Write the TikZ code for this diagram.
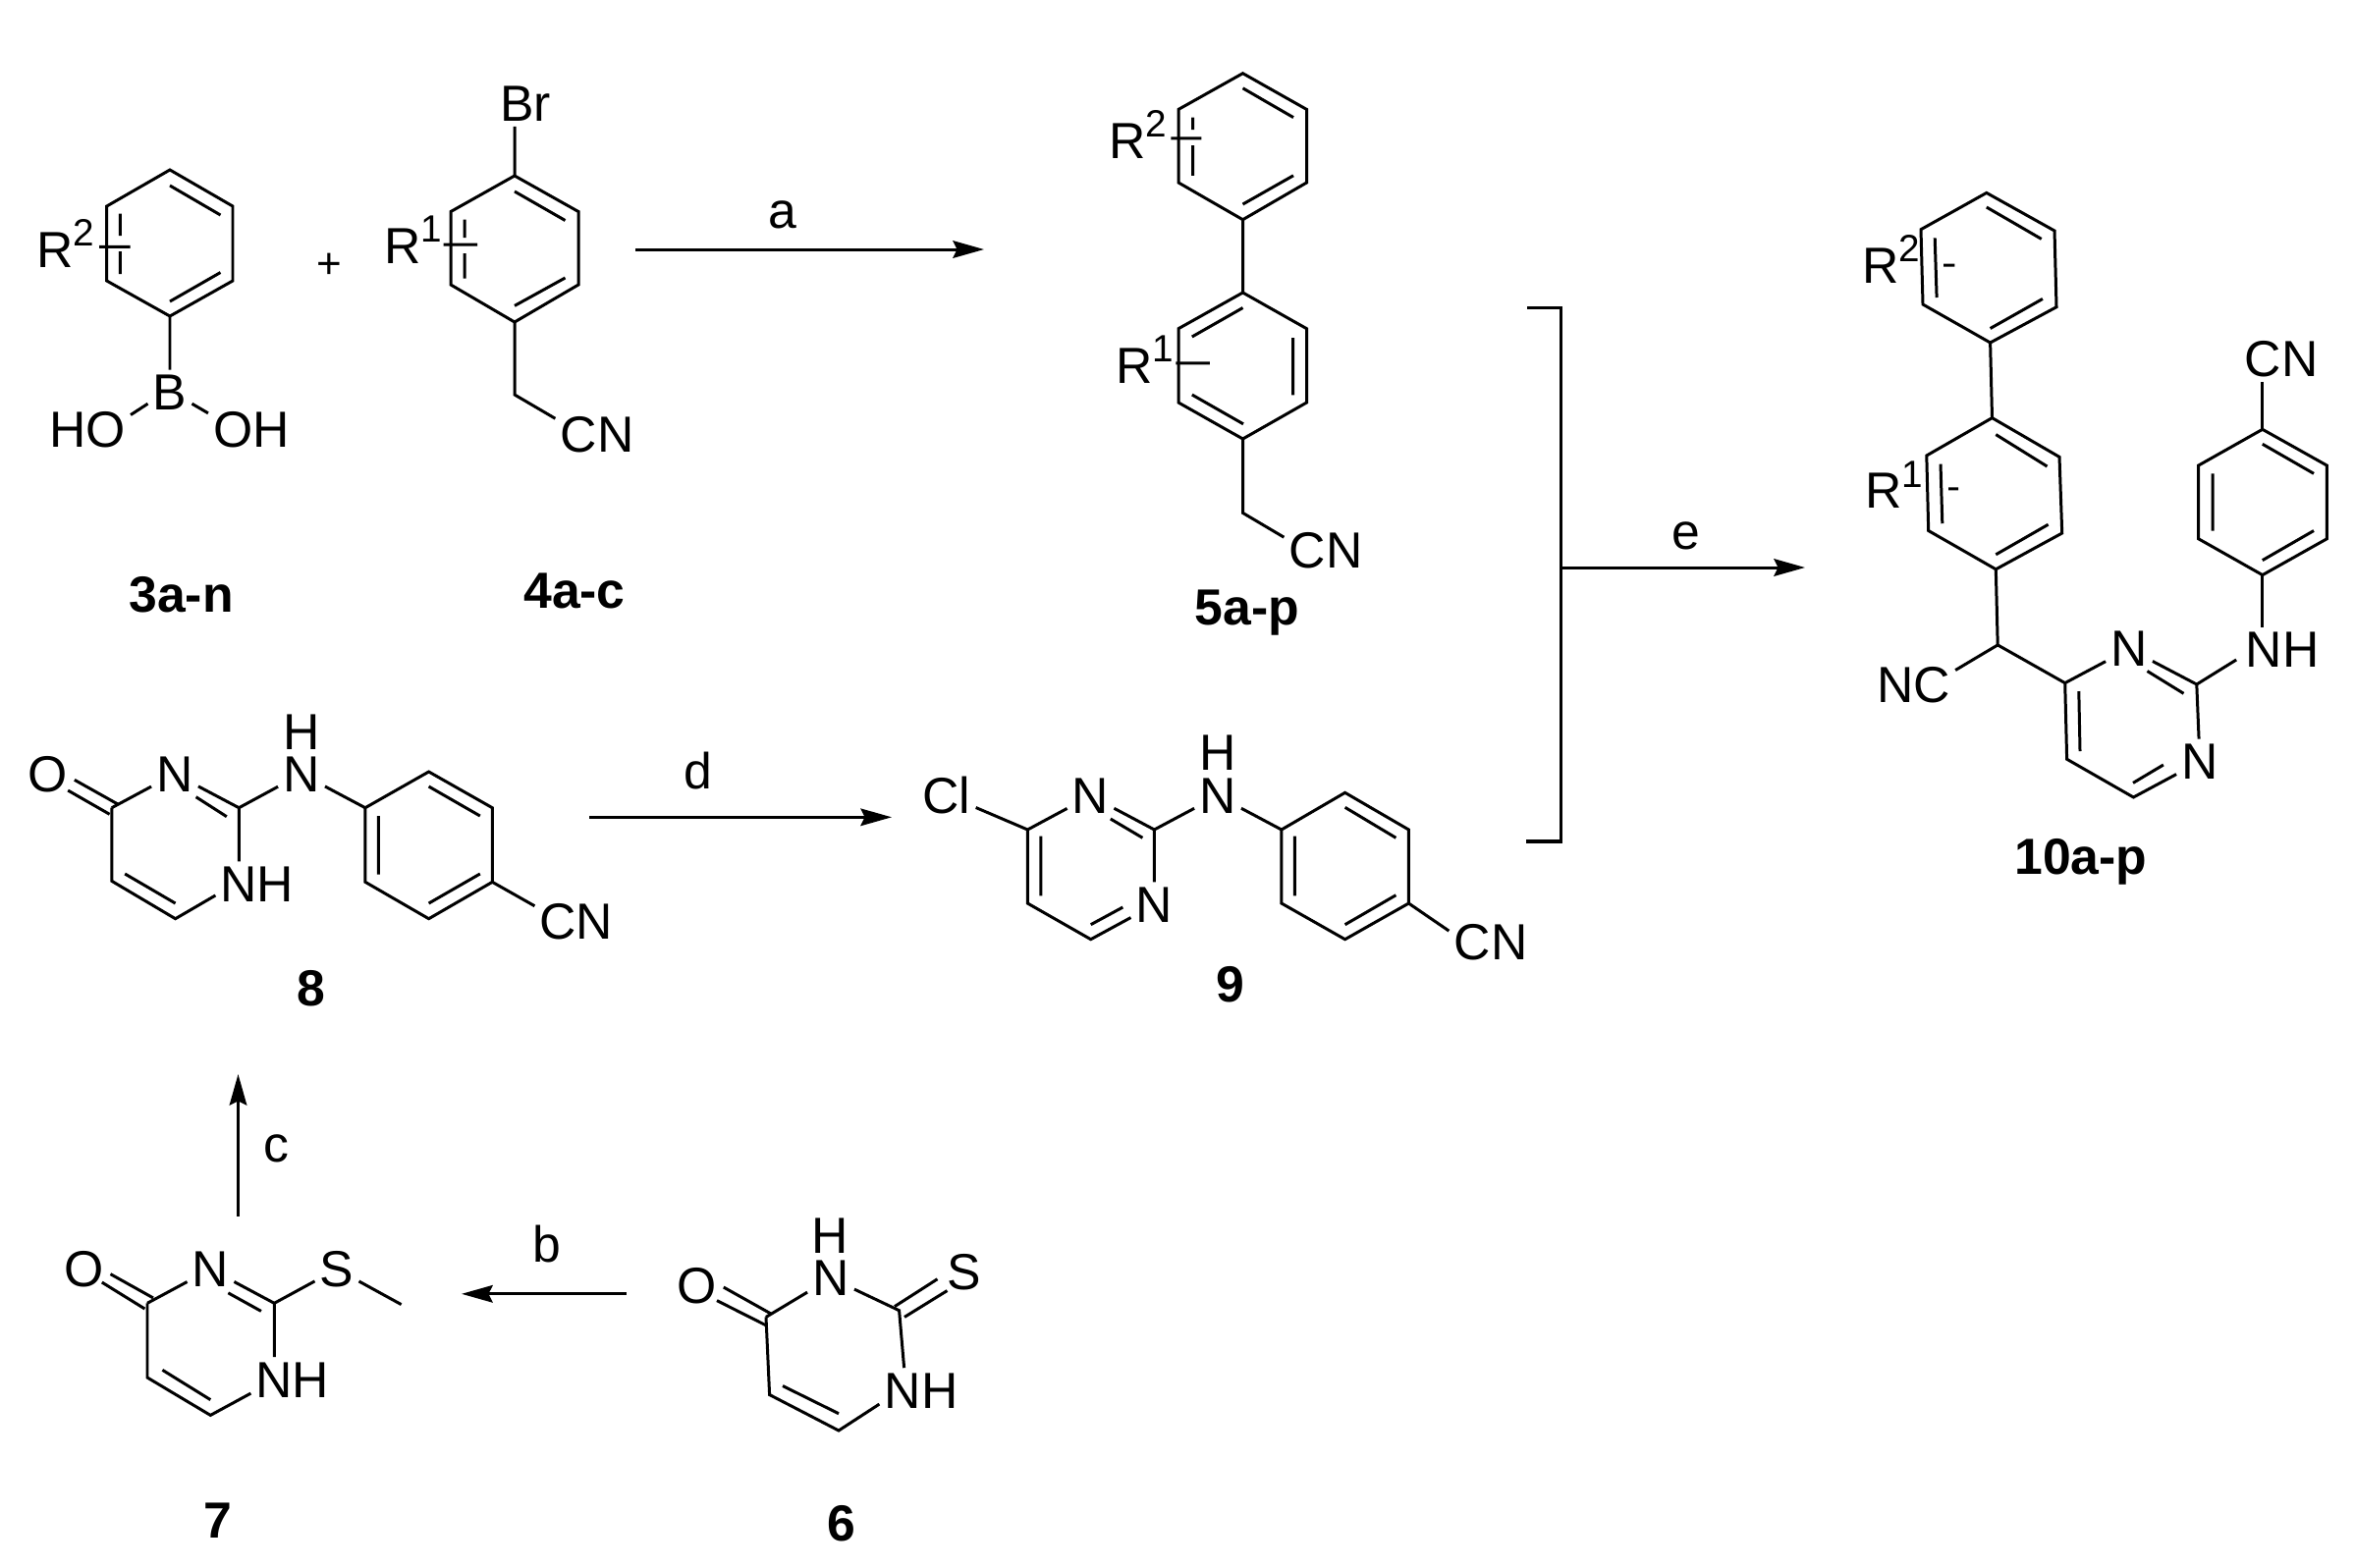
\documentclass[tikz,border=0pt]{standalone}
\usepackage{fontspec}
\setmainfont{Liberation Sans}
\usetikzlibrary{arrows.meta}
\newcommand{\rsub}[1]{R\raisebox{0.42em}{\fontsize{11}{13}\selectfont #1}}
\tikzset{
  bond/.style={line width=0.85pt},
  atom/.style={anchor=base,inner sep=0pt,outer sep=1.5pt,font=\fontsize{14.7}{17}\selectfont},
  rgroup/.style={atom,anchor=base west},
  cpd/.style={atom,font=\fontsize{14.7}{17}\selectfont\bfseries},
  rxn/.style={line width=0.85pt,-{Stealth[length=9pt,width=5pt,inset=1.2pt]}},
}

\begin{document}
\begin{tikzpicture}[x=0.01cm,y=-0.01cm]
  \useasboundingbox (0,0) rectangle (2397,1596);

  % 3a-n
  \draw[bond] (108.7,210) -- (173,173) -- (237,210) -- (237,286) -- (173,322) -- (108.7,286) -- cycle;
  \draw[bond] (173,189) -- (224.5,219) (224.5,277.5) -- (173,307) (122.4,217.5) -- (122.4,240) (122.4,256) -- (122.4,279) (101,251.4) -- (132.6,251.4);
  \coordinate (c3) at (173,322);
  \node[rgroup] (r3) at (32,272) {\rsub{2}};
  \node[atom] (b3) at (173,417.5) {B};
  \node[atom] (ho3) at (89,455.5) {HO};
  \node[atom] (oh3) at (256,455.5) {OH};
  \draw[bond] (c3) -- (b3) (b3.207) -- (ho3.19) (b3.333) -- (oh3.159);
  \node[cpd] (l3) at (184.6,623.7) {3a-n};
  \node[atom,font=\fontsize{12.5}{14}\selectfont] (plus) at (335,283) {+};

  % 4a-c
  \draw[bond] (459,215.5) -- (524,179) -- (589,215.5) -- (589,290) -- (524,328) -- (459,290) -- cycle;
  \draw[bond] (524,195) -- (575.5,224.5) (575.5,283) -- (524,311.4) (473,223.7) -- (473,242) (473,258) -- (473,283.7) (451.5,249) -- (486,249);
  \coordinate (c4a) at (524,179);
  \coordinate (c4b) at (524,328);
  \coordinate (c4c) at (524,402);
  \node[rgroup] (r4) at (386,268.6) {\rsub{1}};
  \node[atom] (br4) at (535,123.7) {Br};
  \node[atom] (cn4) at (608,460.4) {CN};
  \draw[bond] (br4.south -| c4a) -- (c4a) (c4b) -- (c4c) -- (cn4.159);
  \node[cpd] (l4) at (585,619.6) {4a-c};

  % a
  \coordinate (aS) at (647,254);
  \coordinate (aE) at (1002,254);
  \draw[rxn] (aS) -- (aE);
  \node[atom] (la) at (797,232) {a};

  % 5a-p
  \draw[bond] (1200,111.4) -- (1265.5,74.7) -- (1330.5,111.4) -- (1330.5,186) -- (1265.5,223.7) -- (1200,186) -- cycle;
  \draw[bond] (1265.5,89.8) -- (1317,119.6) (1317,178.8) -- (1265.5,208) (1214.6,119.6) -- (1214.6,132) (1214.6,148) -- (1214.6,178.8) (1192.4,140.8) -- (1223.4,140.8);
  \draw[bond] (1200,334.7) -- (1265.5,298) -- (1330.5,334.7) -- (1330.5,410) -- (1265.5,447) -- (1200,410) -- cycle;
  \draw[bond] (1265.5,313.5) -- (1213.8,343) (1316.7,344) -- (1316.7,402.4) (1266,431.8) -- (1213.8,402) (1197.3,369.8) -- (1231.8,369.8);
  \coordinate (c5a) at (1265.5,223.7);
  \coordinate (c5b) at (1265.5,298);
  \coordinate (c5c) at (1265.5,447);
  \coordinate (c5d) at (1265.5,522.4);
  \node[rgroup] (r5b) at (1124,161) {\rsub{2}};
  \node[rgroup] (r5a) at (1131,390) {\rsub{1}};
  \node[atom] (cn5) at (1350,578.8) {CN};
  \draw[bond] (c5a) -- (c5b) (c5c) -- (c5d) -- (cn5.162);
  \node[cpd] (l5) at (1270,636.7) {5a-p};

  % 8
  \draw[bond] (75.9,794.3) -- (120.5,819.3) (69.2,805) -- (111.6,829.3);
  \coordinate (c8a) at (113.8,822.7);
  \coordinate (c8b) at (243.3,822.7);
  \coordinate (c8c) at (178.6,935.7);
  \coordinate (c8d) at (113.8,897.3);
  \coordinate (c8e) at (371.9,822.7);
  \coordinate (c8f) at (501.3,898.3);
  \node[atom] (o8) at (49,806.7) {O};
  \node[atom] (n8) at (178,806) {N};
  \node[atom] (nn8) at (307,806) {N};
  \node[atom] (h8) at (307,763) {H};
  \node[atom] (nh8) at (262,918.3) {NH};
  \node[atom] (cn8) at (587,956) {CN};
  \draw[bond] (c8a) -- (n8) (n8) -- (c8b) -- (nn8) (nn8) -- (c8e) (c8b) -- (nh8.north -| c8b) (nh8.195) -- (c8c) -- (c8d) -- (c8a) (c8f) -- (cn8.160);
  \draw[bond] (199.6,811.7) -- (230.8,831.7) (178.6,920) -- (127.2,890);
  \draw[bond] (371.9,822.7) -- (436.6,786) -- (501.3,822.7) -- (501.3,898.3) -- (436.6,935.7) -- (371.9,898.3) -- cycle;
  \draw[bond] (436.6,801) -- (488.8,831) (488.8,890) -- (436.6,920) (385.3,831) -- (385.3,890.7);
  \node[cpd] (l8) at (317,1024) {8};

  % d
  \coordinate (dS) at (600,832.3);
  \coordinate (dE) at (908,832.3);
  \draw[rxn] (dS) -- (dE);
  \node[atom] (ld) at (711,803) {d};

  % 9
  \coordinate (c9a) at (1046.4,845);
  \coordinate (c9b) at (1175.4,845);
  \coordinate (c9c) at (1110.7,956.7);
  \coordinate (c9d) at (1046.4,920);
  \coordinate (c9e) at (1304.9,845);
  \coordinate (c9f) at (1434.4,920);
  \node[atom] (cl9) at (964,828.3) {Cl};
  \node[atom] (n9) at (1110.5,828.3) {N};
  \node[atom] (nn9) at (1240,828.3) {N};
  \node[atom] (h9) at (1240,784.3) {H};
  \node[atom] (nb9) at (1175.4,939.3) {N};
  \node[atom] (cn9) at (1518,977.3) {CN};
  \draw[bond] (cl9) -- (c9a) -- (n9) (n9) -- (c9b) -- (nn9) (nn9) -- (c9e) (c9b) -- (nb9) (nb9) -- (c9c) -- (c9d) -- (c9a) (c9f) -- (cn9.165);
  \draw[bond] (1130.8,834) -- (1163.4,853.3) (1143.3,924) -- (1110.7,941.7) (1059.8,912.3) -- (1059.8,851.7);
  \draw[bond] (1304.9,845) -- (1369.6,807.3) -- (1434.4,845) -- (1434.4,920) -- (1369.6,956.7) -- (1304.9,920) -- cycle;
  \draw[bond] (1369.6,822.3) -- (1421.4,853.3) (1421.4,911.7) -- (1369.6,941.7) (1318.3,851.7) -- (1318.3,912.3);
  \node[cpd] (l9) at (1253,1020) {9};

  % bracket and e
  \coordinate (brA) at (1555,313.5);
  \coordinate (brB) at (1589.3,313.5);
  \coordinate (brC) at (1589.3,857);
  \coordinate (brD) at (1554,857);
  \coordinate (brM) at (1589.3,578);
  \coordinate (eE) at (1838,578);
  \draw[bond,line width=1pt] (brA) -- (brB) -- (brC) -- (brD);
  \draw[rxn] (brM) -- (eE);
  \node[atom] (le) at (1717,559) {e};

  % 10a-p
  \draw[bond] (1956,233.7) -- (2022.8,196.4) -- (2092,235) -- (2094,312.7) -- (2026.6,349) -- (1958,310) -- cycle;
  \draw[bond] (2022.8,211) -- (2078.7,243.4) (2079.9,304.4) -- (2026.6,334.5) (1970.2,242.4) -- (1972.1,303) (1979,270) -- (1990.4,270);
  \draw[bond] (1961.8,464) -- (2028.5,425.6) -- (2097,465.4) -- (2099.7,543) -- (2032.3,579.8) -- (1963.7,540.5) -- cycle;
  \draw[bond] (2032.3,442.6) -- (2084.5,475) (2085.6,534.2) -- (2032.3,564.8) (1976,472.7) -- (1977.8,533.2) (1984,497.9) -- (1994.2,497.9);
  \draw[bond] (2238.7,474) -- (2303.8,437.3) -- (2369.3,474) -- (2369.3,548.8) -- (2303.8,585.6) -- (2238.7,548.8) -- cycle;
  \draw[bond] (2303.8,570.6) -- (2356,540.5) (2356,482.3) -- (2303.8,452.3) (2253.2,482.3) -- (2253.2,540.5);
  \coordinate (c10a) at (2026.6,349);
  \coordinate (c10b) at (2028.5,425.6);
  \coordinate (c10c) at (2032.3,579.8);
  \coordinate (c10d) at (2034.2,656.9);
  \coordinate (c10e) at (2102.7,695.6);
  \coordinate (c10f) at (2236.8,697);
  \coordinate (c10g) at (2172.4,812);
  \coordinate (c10h) at (2104.6,773.2);
  \coordinate (c10i) at (2303.8,585.6);
  \coordinate (c10j) at (2303.8,437.3);
  \node[rgroup] (r10b) at (1891,288.5) {\rsub{2}};
  \node[rgroup] (r10a) at (1894,517.7) {\rsub{1}};
  \node[atom] (nc10) at (1948.5,715) {NC};
  \node[atom] (n10) at (2168,678.7) {N};
  \node[atom] (nb10) at (2240,793.5) {N};
  \node[atom] (nh10) at (2324,679.6) {NH};
  \node[atom] (cn10) at (2323,383) {CN};
  \draw[bond] (c10a) -- (c10b) (c10c) -- (c10d) -- (nc10.19) (c10d) -- (c10e) -- (n10) (n10) -- (c10f) -- (nb10) (nb10) -- (c10g) -- (c10h) -- (c10e);
  \draw[bond,shorten >=0.05cm] (c10f) -- (nh10.190);
  \draw[bond] (c10i) -- (nh10.north -| c10i) (c10j) -- (cn10.south -| c10j);
  \draw[bond] (2186.5,683.5) -- (2223.5,706.3) (2202.9,779) -- (2172,797.4) (2118,765) -- (2116.8,704);
  \node[cpd] (l10) at (2119,890.5) {10a-p};

  % c
  \coordinate (cS) at (242.5,1238.7);
  \coordinate (cE) at (242.5,1094);
  \draw[rxn] (cS) -- (cE);
  \node[atom] (lc) at (281,1183) {c};

  % 7
  \draw[bond] (112.5,1297.6) -- (156,1321.9) (103.8,1306) -- (147.4,1333);
  \coordinate (c7a) at (150,1327.3);
  \coordinate (c7b) at (279.3,1327.3);
  \coordinate (c7c) at (214.3,1441.4);
  \coordinate (c7d) at (150,1403);
  \coordinate (c7e) at (408.6,1328.6);
  \node[atom] (o7) at (85.4,1310.4) {O};
  \node[atom] (n7) at (214.5,1310.4) {N};
  \node[atom] (s7) at (343,1310.4) {S};
  \node[atom] (nh7) at (298,1423) {NH};
  \draw[bond] (c7a) -- (n7) (n7) -- (c7b) -- (s7) (s7) -- (c7e) (c7b) -- (nh7.north -| c7b) (nh7.198) -- (c7c) -- (c7d) -- (c7a);
  \draw[bond] (232.4,1316.8) -- (265.9,1335.4) (214.3,1425.6) -- (165.4,1395.3);
  \node[cpd] (l7) at (222,1566) {7};

  % b
  \coordinate (bS) at (637.6,1317.8);
  \coordinate (bE) at (470,1317.8);
  \draw[rxn] (bS) -- (bE);
  \node[atom] (lb) at (557,1285) {b};

  % 6
  \draw[bond] (736.8,1311) -- (785,1338) (730,1324.6) -- (780,1349.8) (911,1330.6) -- (954.5,1302.7) (921,1341.4) -- (964.5,1314.5);
  \coordinate (c6a) at (780,1341.4);
  \coordinate (c6b) at (915.6,1334.7);
  \coordinate (c6c) at (854,1457);
  \coordinate (c6d) at (783.6,1420.5);
  \node[atom] (o6) at (710,1327) {O};
  \node[atom] (n6) at (846,1319.5) {N};
  \node[atom] (h6) at (845,1276.8) {H};
  \node[atom] (s6) at (982,1313.5) {S};
  \node[atom] (nh6) at (938,1434) {NH};
  \draw[bond] (c6a) -- (n6) (n6) -- (c6b) -- (nh6.127) (nh6.198) -- (c6c) -- (c6d) -- (c6a);
  \draw[bond] (854,1439.7) -- (797,1411.5);
  \node[cpd] (l6) at (857,1569) {6};
\end{tikzpicture}
\end{document}
